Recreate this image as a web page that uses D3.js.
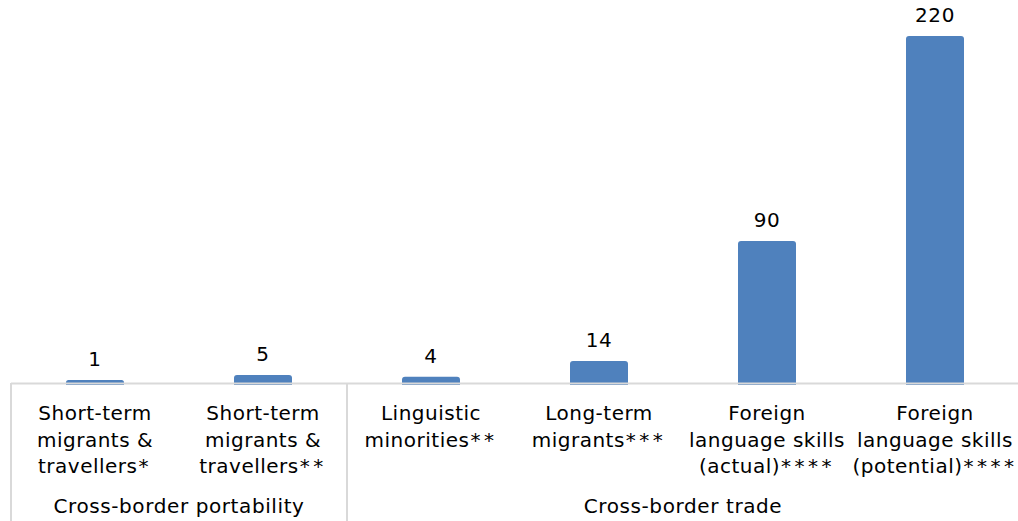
<!DOCTYPE html>
<html>
<head>
<meta charset="utf-8">
<script src="https://cdn.jsdelivr.net/npm/d3@7"></script>
<style>
  html, body { margin: 0; padding: 0; background: #fff; }
  svg { display: block; font-family: "DejaVu Sans", Verdana, sans-serif; }
</style>
</head>
<body>
<div id="chart"></div>
<script>
// categories (label lines) and values
const categories = [
    ["Short-term", "migrants &", "travellers*"],
    ["Short-term", "migrants &", "travellers**"],
    ["Linguistic", "minorities**"],
    ["Long-term", "migrants***"],
    ["Foreign", "language skills", "(actual)****"],
    ["Foreign", "language skills", "(potential)****"]
];
const values = [1, 5, 4, 14, 90, 220];
const groupNames = ["Cross-border portability", "Cross-border trade"];
const groupSizes = [2, 4];

let width = 1018,
    height = 521,
    baseY = 383;

let svg = d3.select('#chart').append('svg')
    .attr('width', width)
    .attr('height', height);

// x: one band per category, no padding; bar is a fixed share of the band
let x = d3.scaleBand()
    .domain(d3.range(values.length))
    .range([11, 11 + 168 * values.length])
    .padding(0);

let barW = 58;

let y = d3.scaleLinear()
    .domain([0, d3.max(values)])
    .range([baseY, 36]);

// bars, top corners slightly rounded
svg.append('g').selectAll('path.bar')
    .data(values)
    .join('path')
    .attr('class', 'bar')
    .attr('fill', '#4f81bd')
    .attr('d', (d, i) => {
        let x0 = x(i) + (x.bandwidth() - barW) / 2,
            x1 = x0 + barW,
            y0 = Math.min(y(d), baseY - 3),
            y1 = baseY + 2,
            r = Math.min(3, (y1 - y0) / 2);
        return `M${x0},${y1}V${y0 + r}Q${x0},${y0} ${x0 + r},${y0}H${x1 - r}Q${x1},${y0} ${x1},${y0 + r}V${y1}Z`;
    });

// value labels
svg.append('g').selectAll('text.val')
    .data(values)
    .join('text')
    .attr('class', 'val')
    .attr('x', (d, i) => x(i) + x.bandwidth() / 2)
    .attr('y', d => Math.min(y(d), baseY - 3) - 14)
    .attr('text-anchor', 'middle')
    .attr('font-size', 20)
    .attr('letter-spacing', 0.6)
    .attr('fill', '#000')
    .text(d => d3.format('d')(d));

// axis line
svg.append('line')
    .attr('x1', x.range()[0]).attr('x2', width)
    .attr('y1', baseY + 0.5).attr('y2', baseY + 0.5)
    .attr('stroke', '#d9d9d9')
    .attr('stroke-width', 2);

// group separators
let starts = [0];
groupSizes.forEach((n, i) => starts.push(starts[i] + n));
starts.forEach(s => {
    let px = x.range()[0] + x.step() * s;
    svg.append('line')
        .attr('x1', px).attr('x2', px)
        .attr('y1', baseY).attr('y2', height)
        .attr('stroke', '#d9d9d9')
        .attr('stroke-width', 2);
});

// category labels
let cat = svg.append('g').selectAll('text.cat')
    .data(categories)
    .join('text')
    .attr('class', 'cat')
    .attr('text-anchor', 'middle')
    .attr('font-size', 20)
    .attr('letter-spacing', 0.5)
    .attr('fill', '#000');

let lines = cat.selectAll('tspan.line')
    .data((d, i) => d.map(t => ({ t: t, i: i })))
    .join('tspan')
    .attr('class', 'line')
    .attr('x', d => x(d.i) + x.bandwidth() / 2)
    .attr('y', (d, j) => 420 + j * 26.5);

// asterisks in the original font are set wide
lines.each(function (d) {
    let m = d.t.match(/^(.*?)(\*+)$/),
        el = d3.select(this);
    if (m) {
        el.append('tspan').text(m[1]);
        el.append('tspan').attr('dx', 1).attr('letter-spacing', 3.5).text(m[2]);
    } else {
        el.text(d.t);
    }
});

// group labels
svg.append('g').selectAll('text.grp')
    .data(groupNames)
    .join('text')
    .attr('class', 'grp')
    .attr('x', (d, i) => x.range()[0] + x.step() * (starts[i] + groupSizes[i] / 2))
    .attr('y', 513)
    .attr('text-anchor', 'middle')
    .attr('font-size', 20)
    .attr('letter-spacing', 0.6)
    .attr('fill', '#000')
    .text(d => d);
</script>
</body>
</html>
